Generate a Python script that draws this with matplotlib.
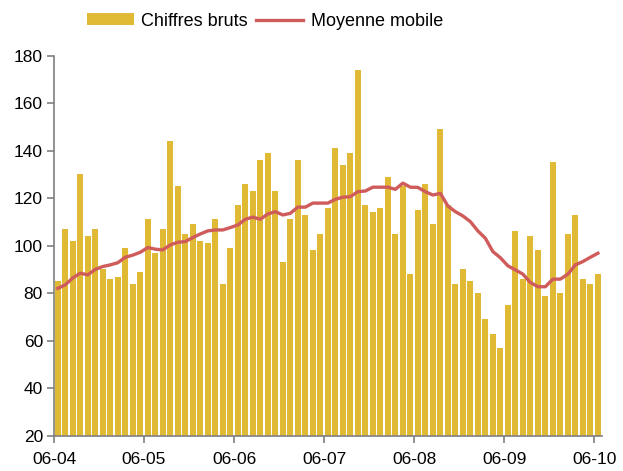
import numpy as np
import matplotlib.pyplot as plt

plt.rcParams['font.family'] = ['Liberation Sans', 'DejaVu Sans']

# Données mensuelles, juin 2004 -> juin 2010
chiffres_bruts = [85, 107, 102, 130, 104, 107, 90, 86, 87, 99, 84, 89,
                  111, 97, 107, 144, 125, 105, 109, 102, 101, 111, 84, 99,
                  117, 126, 123, 136, 139, 123, 93, 111, 136, 113, 98, 105,
                  116, 141, 134, 139, 174, 117, 114, 116, 129, 105, 125, 88,
                  115, 126, 109, 149, 117, 84, 90, 85, 80, 69, 63, 57,
                  75, 106, 86, 104, 98, 79, 135, 80, 105, 113, 86, 84, 88]

moyenne_mobile = [82, 83.5, 86.4, 88.4, 87.7, 90, 91.2, 91.9, 92.8, 95.1, 96, 97.2,
                  99.2, 98.5, 98.2, 100.3, 101.4, 101.7, 103.4, 104.9, 106.2, 106.6, 106.6, 107.6,
                  108.7, 111.1, 112, 111.1, 113.3, 114.3, 112.9, 113.6, 116.2, 116.2, 117.9, 117.9,
                  117.9, 119.5, 120.4, 120.6, 122.7, 123, 124.6, 124.6, 124.6, 123.7, 126.3, 124.6,
                  124.5, 122.7, 121.3, 122, 116.7, 114.3, 112.5, 110.1, 106.2, 103.1, 97.5, 94.9,
                  91.5, 89.8, 88, 84.5, 82.7, 82.7, 85.9, 85.9, 88, 91.9, 93.3, 95.1, 96.8]

tick_labels = ['06-04', '06-05', '06-06', '06-07', '06-08', '06-09', '06-10']

mois = np.arange(len(chiffres_bruts)) + 0.5

fig = plt.figure(figsize=(6.23, 4.71), dpi=100)
ax = fig.add_axes([0.0867, 0.075, 0.879, 0.807])

barres = ax.bar(mois, chiffres_bruts, width=0.78, color='#E0B935', label='Chiffres bruts', zorder=2)
ligne, = ax.plot(mois, moyenne_mobile, color='#CF5B5B', linewidth=2.4, label='Moyenne mobile', zorder=3)

ax.set_ylim(20, 180)
ax.set_xlim(0, 73)
ax.set_yticks(range(20, 181, 20))
ax.set_xticks(range(0, 73, 12))
ax.set_xticklabels(tick_labels)

for s in ['top', 'right']:
    ax.spines[s].set_visible(False)
for s in ['left', 'bottom']:
    ax.spines[s].set_color('#7f7f7f')
    ax.spines[s].set_linewidth(1.2)
ax.tick_params(axis='both', colors='#7f7f7f', labelcolor='black', labelsize=12.5,
               length=5, width=1.2)
ax.tick_params(axis='x', pad=7)
ax.tick_params(axis='y', pad=3)

fig.legend([barres, ligne], ['Chiffres bruts', 'Moyenne mobile'],
           loc='center', bbox_to_anchor=(0.425, 0.955), ncol=2, frameon=False,
           fontsize=13, handlelength=2.6, handleheight=0.65, columnspacing=0.5,
           handletextpad=0.4)

fig.savefig('out.png', dpi=100)
